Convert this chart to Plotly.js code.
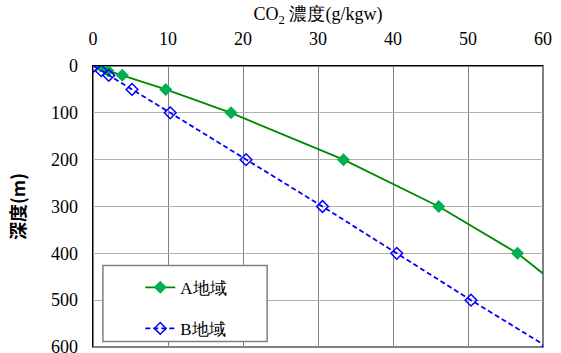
<!DOCTYPE html>
<html>
<head>
<meta charset="utf-8">
<script src="https://cdn.plot.ly/plotly-3.0.1.min.js"></script>
<style>html,body{margin:0;padding:0;background:#fff;}#chart{width:561px;height:353px;}</style>
</head>
<body>
<div id="chart"></div>
<script>
// Data
var seriesNames = ["A地域", "B地域"];
var depthA = [0, 10, 20, 50, 100, 200, 300, 400, 500];
var concA  = [1.0, 2.0, 3.9, 9.7, 18.4, 33.4, 46.1, 56.6, 64.5];
var depthB = [0, 10, 20, 50, 100, 200, 300, 400, 500, 600];
var concB  = [0.1, 1.1, 2.1, 5.2, 10.3, 20.4, 30.6, 40.5, 50.4, 60.6];
var xTicks = [0, 10, 20, 30, 40, 50, 60];
var yTicks = [0, 100, 200, 300, 400, 500, 600];
var xTitle = "CO<sub>2</sub> 濃度(g/kgw)";
var yTitle = "深度(m)";

var serif = "Liberation Serif";
var sans = "Noto Sans CJK JP";

var traces = [
  {
    x: concA, y: depthA, name: seriesNames[0], type: "scatter", mode: "lines+markers",
    legendgroup: "a",
    line: {color: "#008a00", width: 1.8},
    marker: {symbol: "diamond", size: 10, color: "#00b050", line: {width: 0}}
  },
  {
    x: concB, y: depthB, name: seriesNames[1], type: "scatter", mode: "lines+markers",
    legendgroup: "b",
    line: {color: "#0000ff", width: 1.8, dash: "5px,3px"},
    marker: {symbol: "diamond-open", size: 9, color: "#0000ff", line: {width: 1.5, color: "#0000ff"}}
  }
];

var layout = {
  width: 561, height: 353,
  margin: {l: 93, r: 18, t: 66, b: 6, pad: 0},
  paper_bgcolor: "#fff", plot_bgcolor: "#fff",
  showlegend: true,
  font: {family: serif, size: 16, color: "#000"},
  xaxis: {
    side: "top", range: [0, 60], tickvals: xTicks, ticktext: xTicks.map(String),
    showgrid: true, gridcolor: "#808080", gridwidth: 1,
    showline: true, linecolor: "#000", linewidth: 1.5,
    zeroline: false, ticks: "", ticklabelstandoff: 12, ticklabeloverflow: "allow",
    tickfont: {family: serif, size: 18, color: "#000"},
    automargin: false,
    title: {text: xTitle, font: {family: serif, size: 18, color: "#000"}, standoff: 4}
  },
  yaxis: {
    range: [600, 0], tickvals: yTicks, ticktext: yTicks.map(String),
    showgrid: true, gridcolor: "#b0b0b0", gridwidth: 1,
    showline: true, linecolor: "#000", linewidth: 1.5,
    zeroline: false, ticks: "", ticklabelstandoff: 10, ticklabeloverflow: "allow",
    tickfont: {family: serif, size: 18, color: "#000"},
    automargin: false,
    title: {text: yTitle, font: {family: sans, size: 18, color: "#000", weight: "bold"}, standoff: 20}
  },
  legend: {
    x: 0.105, xanchor: "left", y: 0.275, yanchor: "top",
    bgcolor: "rgba(0,0,0,0)", borderwidth: 0,
    traceorder: "grouped", tracegroupgap: 16,
    font: {family: serif, size: 17, color: "#000"}
  },
  shapes: [
    {type: "rect", xref: "paper", yref: "paper", x0: 0, x1: 1, y0: 0, y1: 1,
     line: {color: "#808080", width: 2}, layer: "below"},
    {type: "rect", xref: "paper", yref: "paper", x0: 0.022, x1: 0.387, y0: 0.02, y1: 0.29,
     line: {color: "#808080", width: 1.5}, fillcolor: "#fff", layer: "above"}
  ]
};

Plotly.newPlot("chart", traces, layout, {displayModeBar: false, staticPlot: true});
</script>
</body>
</html>
